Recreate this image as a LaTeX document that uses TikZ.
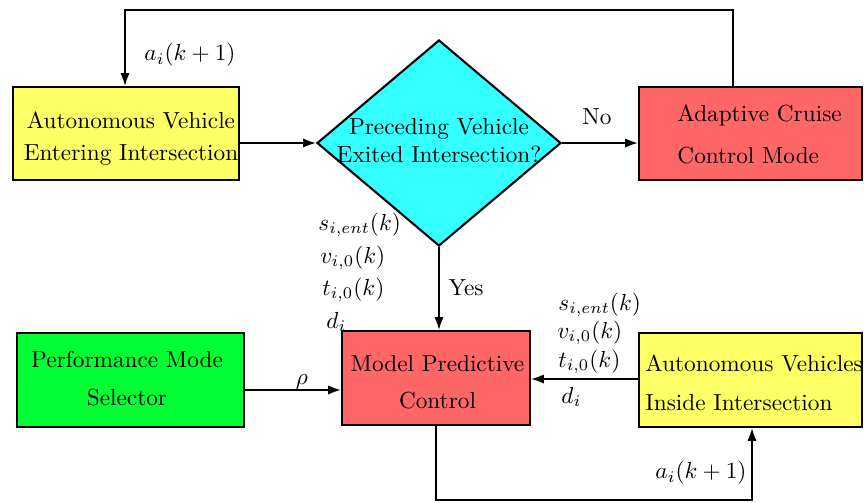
\documentclass[tikz,border=0pt]{standalone}
\usetikzlibrary{shapes.geometric,arrows.meta}
\definecolor{boxyellow}{RGB}{255,255,102}
\definecolor{boxcyan}{RGB}{51,255,255}
\definecolor{boxred}{RGB}{255,102,102}
\definecolor{boxgreen}{RGB}{0,255,51}
\begin{document}
\begin{tikzpicture}[x=0.43pt,y=-0.43pt,
  blk/.style={draw,line width=0.9pt,rectangle,inner sep=0pt},
  conn/.style={line width=0.8pt},
  arr/.style={conn,-{Latex[length=5.5pt,width=4pt]}},
  txt/.style={inner sep=0pt}]
\useasboundingbox (0,0) rectangle (864,503);
% blocks
\node[blk,fill=boxyellow,minimum width=97.18pt,minimum height=39.99pt] (e) at (126,133.5) {};
\node[draw,line width=0.9pt,diamond,fill=boxcyan,inner sep=0pt,minimum width=104.92pt,minimum height=88.58pt] (dia) at (439,143) {};
\node[blk,fill=boxred,minimum width=95.89pt,minimum height=39.99pt] (acc) at (750.5,133.5) {};
\node[blk,fill=boxgreen,minimum width=97.61pt,minimum height=40.42pt] (green) at (130.5,380) {};
\node[blk,fill=boxred,minimum width=80.84pt,minimum height=40.42pt] (mpc) at (436,378) {};
\node[blk,fill=boxyellow,minimum width=95.89pt,minimum height=40.42pt] (y2) at (750.5,380) {};
% block texts
\node[txt,align=center] (te) at (131,139) {Autonomous Vehicle\\[1.8pt]Entering Intersection};
\node[txt,align=center] (tdia) at (439,141) {Preceding Vehicle\\Exited Intersection?};
\node[txt,align=left,anchor=west] (tacc) at (677,134) {Adaptive Cruise\\[6pt]Control Mode};
\node[txt,align=center] (tgreen) at (127,379) {Performance Mode\\[4.3pt]Selector};
\node[txt,align=center] (tmpc) at (437.5,382) {Model Predictive\\[3.9pt]Control};
\node[txt,align=left,anchor=west] (ty2) at (645,383) {Autonomous Vehicles\\[4.8pt]Inside Intersection};
% connectors
\coordinate (c1) at (733,10);
\coordinate (c2) at (125,10);
\draw[arr] (c1 |- acc.north) -- (c1) -- (c2) -- (c2 |- e.north);
\draw[arr] (e.east |- dia.west) -- (dia.west);
\draw[arr] (dia.east) -- (dia.east -| acc.west);
\draw[arr] (dia.south) -- (dia.south |- mpc.north);
\coordinate (g1) at (0,390);
\draw[arr] (g1 -| green.east) -- (g1 -| mpc.west);
\coordinate (g2) at (0,379);
\draw[arr] (g2 -| y2.west) -- (g2 -| mpc.east);
\coordinate (c3) at (436,500);
\coordinate (c4) at (752,500);
\draw[arr] (c3 |- mpc.south) -- (c3) -- (c4) -- (c4 |- y2.south);
% labels
\node[txt] (la1) at (190,55) {$a_i(k+1)$};
\node[txt] (lno) at (597,117) {No};
\node[txt] (lyes) at (466,288) {Yes};
\node[txt] (lrho) at (302,382) {$\rho$};
\node[txt,anchor=west] (ls1) at (318,225) {$s_{i,ent}(k)$};
\node[txt,anchor=west] (lv1) at (320,258) {$v_{i,0}(k)$};
\node[txt,anchor=west] (lt1) at (322,290) {$t_{i,0}(k)$};
\node[txt,anchor=west] (ld1) at (326,322) {$d_i$};
\node[txt,anchor=west] (ls2) at (558,305) {$s_{i,ent}(k)$};
\node[txt,anchor=west] (lv2) at (557,333) {$v_{i,0}(k)$};
\node[txt,anchor=west] (lt2) at (558,362) {$t_{i,0}(k)$};
\node[txt,anchor=west] (ld2) at (561,397) {$d_i$};
\node[txt] (la2) at (701,473) {$a_i(k+1)$};
\end{tikzpicture}
\end{document}
